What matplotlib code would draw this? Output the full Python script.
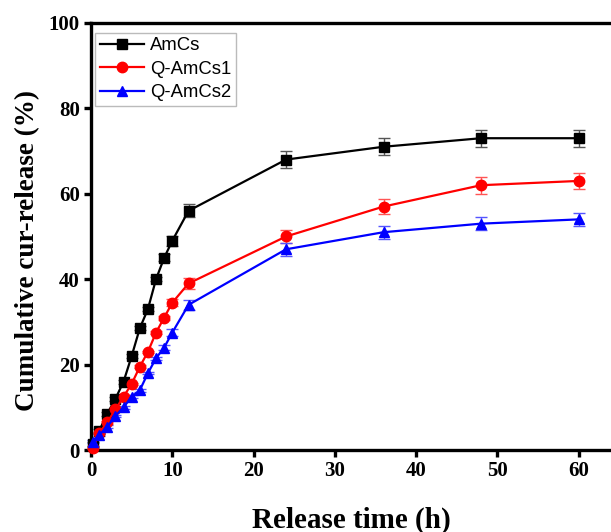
import numpy as np
import matplotlib.pyplot as plt

# release time (h)
time = [0.25, 1, 2, 3, 4, 5, 6, 7, 8, 9, 10, 12, 24, 36, 48, 60]

amcs = [1.5, 4.5, 8.5, 12, 16, 22, 28.5, 33, 40, 45, 49, 56, 68, 71, 73, 73]
amcs_err = [0.5, 0.5, 0.5, 0.5, 0.5, 0.5, 0.5, 0.5, 0.5, 0.8, 1.2, 1.5, 2, 2, 2, 2]

q_amcs1 = [0.5, 4, 6.5, 9.5, 12.5, 15.5, 19.5, 23, 27.5, 31, 34.5, 39, 50, 57, 62, 63]
q_amcs1_err = [0.3, 0.3, 0.3, 0.3, 0.3, 0.3, 0.3, 0.3, 0.3, 0.5, 0.8, 1.2, 1.5, 1.8, 2, 1.8]

q_amcs2 = [2, 3.5, 5.5, 8, 10, 12.5, 14, 18, 21.5, 24, 27.5, 34, 47, 51, 53, 54]
q_amcs2_err = [0.3, 0.3, 0.3, 0.3, 0.3, 0.3, 0.3, 0.3, 0.3, 0.5, 0.8, 1.2, 1.5, 1.5, 1.5, 1.5]

fig = plt.figure(figsize=(6.11, 5.32), dpi=100)
ax = fig.add_axes([0.149, 0.154, 0.851, 0.803])

series = [
    (amcs, amcs_err, 'AmCs', 'black', '#555555', 's', 6.5),
    (q_amcs1, q_amcs1_err, 'Q-AmCs1', 'red', '#ff5555', 'o', 7.5),
    (q_amcs2, q_amcs2_err, 'Q-AmCs2', 'blue', '#5555ff', '^', 7.5),
]
for vals, errs, name, col, ecol, mk, ms in series:
    ax.errorbar(time, vals, yerr=errs, fmt='none', ecolor=ecol, capsize=4,
                elinewidth=1, capthick=1, clip_on=False, zorder=2)
    ax.plot(time, vals, color=col, marker=mk, markersize=ms, linewidth=1.6,
            label=name, clip_on=False, zorder=3)

ax.set_xlim(0, 64.0)
ax.set_ylim(0, 100)
ax.set_xticks(np.arange(0, 61, 10))
ax.set_yticks(np.arange(0, 101, 20))

for side in ['left', 'bottom', 'top']:
    ax.spines[side].set_linewidth(2.4)
ax.spines['right'].set_visible(False)
ax.tick_params(direction='out', length=5, width=2.4, pad=3)

for lab in ax.get_xticklabels() + ax.get_yticklabels():
    lab.set_fontfamily('Liberation Serif')
    lab.set_fontweight('bold')
    lab.set_fontsize(15)

ax.set_xlabel('Release time (h)', fontfamily='Liberation Serif', fontweight='bold',
              fontsize=21, labelpad=18)
ax.set_ylabel('Cumulative cur-release (%)', fontfamily='Liberation Serif',
              fontweight='bold', fontsize=19.5)
ax.yaxis.set_label_coords(-0.098, 0.468)

leg = ax.legend(loc='upper left', bbox_to_anchor=(0.008, 0.977), borderaxespad=0,
                prop={'family': 'Liberation Sans', 'size': 13.3},
                handlelength=2.4, fancybox=False,
                handletextpad=0.3, labelspacing=0.35, borderpad=0.25)
leg.get_frame().set_edgecolor('#aaaaaa')

fig.savefig('out.png', dpi=100)
